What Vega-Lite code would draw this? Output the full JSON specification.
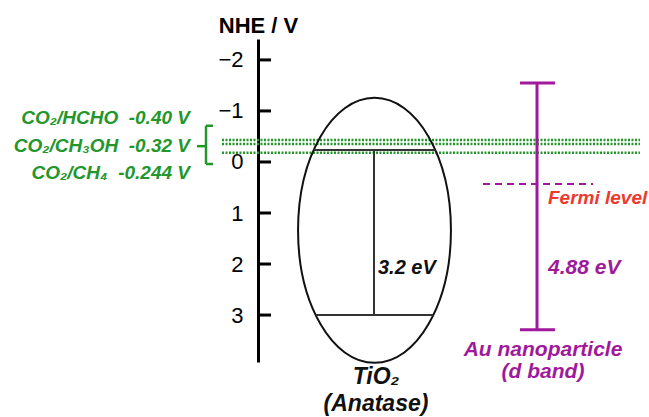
{
  "$schema": "https://vega.github.io/schema/vega-lite/v6.json",
  "width": 391,
  "height": 323,
  "autosize": "none",
  "padding": {"left": 258, "top": 39, "right": 0, "bottom": 55},
  "background": "white",
  "config": {"view": {"stroke": null}, "text": {"font": "Liberation Sans", "fontStyle": "italic", "fontWeight": "bold"},
    "axisY": {"grid": false, "domainColor": "black", "domainWidth": 3, "ticks": false, "labelPadding": 15, "labelFont": "Liberation Sans", "labelFontSize": 22, "labelColor": "black", "titleFont": "Liberation Sans", "titleFontSize": 22, "titleFontWeight": "bold", "titleColor": "black", "titleAngle": 0, "titleX": 0, "titleY": -7, "titleAlign": "center", "titleBaseline": "alphabetic"}},
  "encoding": {
    "x": {"field": "x", "type": "quantitative", "scale": {"domain": [258, 649], "nice": false, "zero": false}, "axis": null},
    "y": {"field": "v", "type": "quantitative", "scale": {"domain": [-2.41, 3.92], "reverse": true, "nice": false, "zero": false},
      "axis": {"values": [-2, -1, 0, 1, 2, 3], "title": "NHE / V", "labelFontSize": 22}}
  },
  "layer": [
    {
      "data": {"values": [{"x": 258, "x2": 271, "v": -2}, {"x": 258, "x2": 271, "v": -1}, {"x": 258, "x2": 271, "v": 0}, {"x": 258, "x2": 271, "v": 1}, {"x": 258, "x2": 271, "v": 2}, {"x": 258, "x2": 271, "v": 3}]},
      "mark": {"type": "rule", "color": "black", "strokeWidth": 3},
      "encoding": {"x2": {"field": "x2"}}
    },
    {
      "data": {"values": [{"x": 222, "x2": 640, "v": -0.43}, {"x": 222, "x2": 640, "v": -0.35}, {"x": 222, "x2": 640, "v": -0.18}]},
      "mark": {"type": "rule", "color": "#23972b", "strokeWidth": 2.5, "strokeDash": [2, 1.5]},
      "encoding": {"x2": {"field": "x2"}}
    },
    {
      "data": {"values": [{"x": 206, "x2": 206, "v": -0.71, "v2": 0.04}, {"x": 206, "x2": 213, "v": -0.71, "v2": -0.71}, {"x": 206, "x2": 213, "v": 0.04, "v2": 0.04}, {"x": 197, "x2": 206, "v": -0.31, "v2": -0.31}]},
      "mark": {"type": "rule", "color": "#23972b", "strokeWidth": 2.5},
      "encoding": {"x2": {"field": "x2"}, "y2": {"field": "v2"}}
    },
    {
      "data": {"values": [{"x": 190, "v": -0.86, "t": "CO₂/HCHO\u00a0\u00a0-0.40 V"}, {"x": 190, "v": -0.31, "t": "CO₂/CH₃OH\u00a0\u00a0-0.32 V"}, {"x": 190, "v": 0.22, "t": "CO₂/CH₄\u00a0\u00a0-0.244 V"}]},
      "mark": {"type": "text", "align": "right", "baseline": "middle", "fontSize": 19, "color": "#23972b"},
      "encoding": {"text": {"field": "t"}}
    },
    {
      "data": {"values": [{"x": 374.5, "v": 1.34}]},
      "mark": {"type": "point", "shape": "M0,-1A0.577,1,0,1,1,0,1A0.577,1,0,1,1,0,-1Z", "size": 70225, "filled": false, "color": "#111111", "strokeWidth": 2, "opacity": 1}
    },
    {
      "data": {"values": [{"x": 314, "x2": 435, "v": -0.235, "v2": -0.235}, {"x": 316, "x2": 433, "v": 3.0, "v2": 3.0}, {"x": 374, "x2": 374, "v": -0.235, "v2": 3.0}]},
      "mark": {"type": "rule", "color": "#333333", "strokeWidth": 2},
      "encoding": {"x2": {"field": "x2"}, "y2": {"field": "v2"}}
    },
    {
      "data": {"values": [{"x": 378, "v": 2.08, "t": "3.2 eV"}]},
      "mark": {"type": "text", "align": "left", "baseline": "middle", "fontSize": 20, "color": "#111111"},
      "encoding": {"text": {"field": "t"}}
    },
    {
      "data": {"values": [{"x": 376, "v": 4.22, "t": "TiO₂"}, {"x": 376, "v": 4.75, "t": "(Anatase)"}]},
      "mark": {"type": "text", "align": "center", "baseline": "middle", "fontSize": 23, "color": "#111111"},
      "encoding": {"text": {"field": "t"}}
    },
    {
      "data": {"values": [{"x": 537, "x2": 537, "v": -1.55, "v2": 3.29}, {"x": 520, "x2": 555, "v": -1.55, "v2": -1.55}, {"x": 520, "x2": 555, "v": 3.29, "v2": 3.29}]},
      "mark": {"type": "rule", "color": "#a0199d", "strokeWidth": 3},
      "encoding": {"x2": {"field": "x2"}, "y2": {"field": "v2"}}
    },
    {
      "data": {"values": [{"x": 483, "x2": 593, "v": 0.43}]},
      "mark": {"type": "rule", "color": "#a0199d", "strokeWidth": 2, "strokeDash": [7, 5]},
      "encoding": {"x2": {"field": "x2"}}
    },
    {
      "data": {"values": [{"x": 548, "v": 0.71, "t": "Fermi level"}]},
      "mark": {"type": "text", "align": "left", "baseline": "middle", "fontSize": 19, "color": "#ec3a2e"},
      "encoding": {"text": {"field": "t"}}
    },
    {
      "data": {"values": [{"x": 548, "v": 2.08, "t": "4.88 eV"}]},
      "mark": {"type": "text", "align": "left", "baseline": "middle", "fontSize": 21, "color": "#a0199d"},
      "encoding": {"text": {"field": "t"}}
    },
    {
      "data": {"values": [{"x": 543, "v": 3.69, "t": "Au nanoparticle"}, {"x": 543, "v": 4.12, "t": "(d band)"}]},
      "mark": {"type": "text", "align": "center", "baseline": "middle", "fontSize": 21, "color": "#a0199d"},
      "encoding": {"text": {"field": "t"}}
    }
  ]
}
